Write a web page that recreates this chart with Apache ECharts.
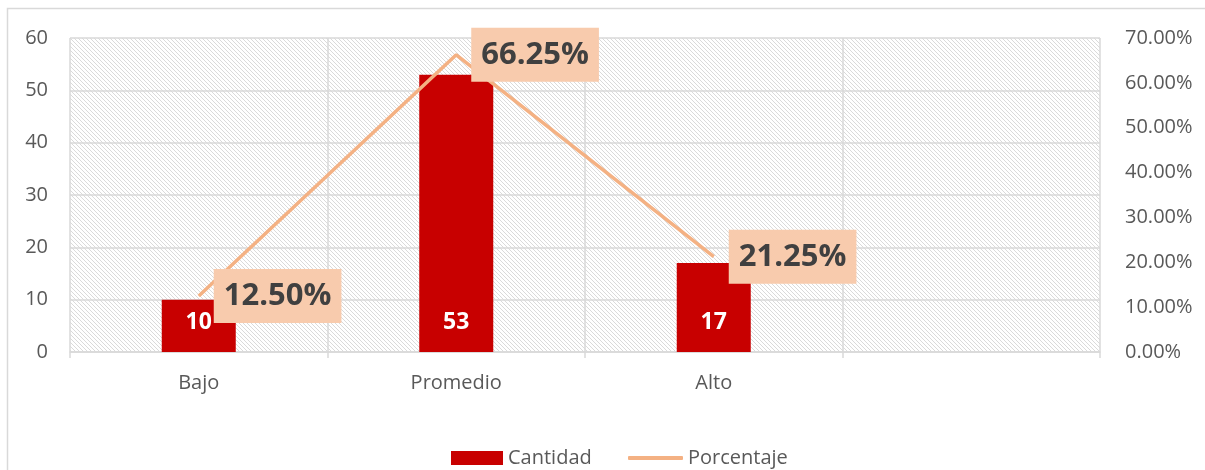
<!DOCTYPE html>
<html>
<head>
<meta charset="UTF-8">
<title>Cantidad y porcentaje</title>
<script src="https://cdn.jsdelivr.net/npm/echarts@6/dist/echarts.min.js"></script>
<style>
  html, body { margin: 0; padding: 0; background: #fff; }
  #main { width: 1205px; height: 470px; }
</style>
</head>
<body>
<div id="main"></div>
<script>
var categorias = ['Bajo', 'Promedio', 'Alto', '']
var cantidad = [10, 53, 17, null]
var porcentaje = [0.125, 0.6625, 0.2125, null]

// trama diagonal del fondo
var trama = document.createElement('canvas')
trama.width = 4
trama.height = 4
var tctx = trama.getContext('2d')
tctx.fillStyle = '#ffffff'
tctx.fillRect(0, 0, 4, 4)
tctx.fillStyle = '#dadada'
for (var i = 0; i < 4; i++) {
  tctx.fillRect(i, i, 1, 1)
}

var gris = '#d9d9d9'
var texto = '#595959'
var fuente = '"Open Sans", sans-serif'

var myChart = echarts.init(document.getElementById('main'))
var option = {
  animation: false,
  graphic: [{
    type: 'rect',
    shape: { x: 7.5, y: 8.5, width: 1300, height: 600 },
    style: { fill: 'none', stroke: gris, lineWidth: 1.5 },
    silent: true
  }],
  legend: [{
    data: [{ name: 'Cantidad', icon: 'rect' }],
    left: 446,
    top: 443,
    itemWidth: 52,
    itemHeight: 14,
    textStyle: { color: texto, fontSize: 20, fontFamily: fuente }
  }, {
    data: [{ name: 'Porcentaje', icon: 'roundRect' }],
    left: 623,
    top: 443,
    itemWidth: 55,
    itemHeight: 4,
    textStyle: { color: texto, fontSize: 20, fontFamily: fuente }
  }],
  grid: {
    left: 70,
    right: 105,
    top: 38,
    bottom: 118,
    show: true,
    borderWidth: 0,
    backgroundColor: { image: trama, repeat: 'repeat' }
  },
  xAxis: {
    type: 'category',
    data: categorias,
    axisLine: { lineStyle: { color: gris, width: 1.5 } },
    axisTick: { show: true, length: 6, lineStyle: { color: gris, width: 1.5 } },
    splitLine: { show: true, lineStyle: { color: gris, width: 1.5 } },
    axisLabel: { color: texto, fontSize: 20, fontFamily: fuente, margin: 21 }
  },
  yAxis: [{
    type: 'value',
    min: 0,
    max: 60,
    interval: 10,
    axisLine: { show: false },
    axisTick: { show: false },
    splitLine: { lineStyle: { color: gris, width: 1.5 } },
    axisLabel: { color: texto, fontSize: 20, fontFamily: fuente, margin: 22 }
  }, {
    type: 'value',
    min: 0,
    max: 0.7,
    interval: 0.1,
    axisLine: { show: false },
    axisTick: { show: false },
    splitLine: { show: false },
    axisLabel: {
      color: texto, fontSize: 20, fontFamily: fuente, margin: 25,
      formatter: function (v) { return (v * 100).toFixed(2) + '%' }
    }
  }],
  series: [{
    name: 'Cantidad',
    type: 'bar',
    data: cantidad,
    barWidth: 74,
    itemStyle: { color: '#c80000' },
    label: {
      show: true,
      position: 'insideBottom',
      distance: 18,
      color: '#ffffff',
      fontSize: 23,
      fontWeight: 'bold',
      fontFamily: fuente
    }
  }, {
    name: 'Porcentaje',
    type: 'line',
    yAxisIndex: 1,
    data: porcentaje,
    symbol: 'circle',
    symbolSize: 0,
    itemStyle: { color: '#f4b183' },
    lineStyle: { color: '#f4b183', width: 3.5 },
    label: {
      show: true,
      position: 'right',
      distance: 15,
      backgroundColor: '#f8cbad',
      padding: [9, 10, 9, 10],
      color: '#404040',
      fontSize: 31,
      lineHeight: 36,
      fontWeight: 'bold',
      fontFamily: fuente,
      formatter: function (p) { return (p.value * 100).toFixed(2) + '%' }
    }
  }]
}
myChart.setOption(option)
</script>
</body>
</html>
